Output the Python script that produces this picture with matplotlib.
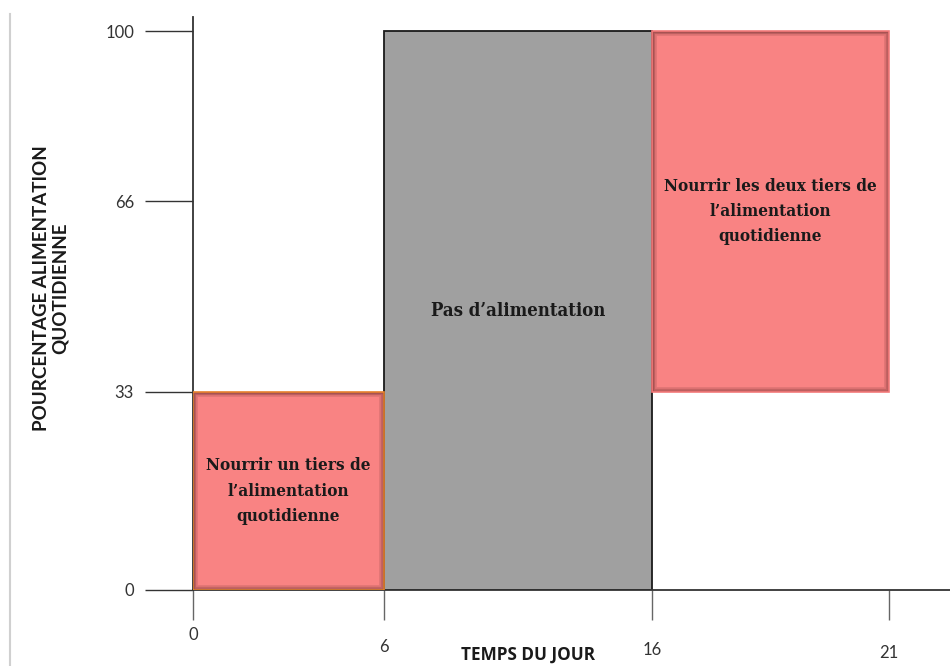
import numpy as np
import matplotlib
matplotlib.use("Agg")
import matplotlib.pyplot as plt
from matplotlib.transforms import ScaledTranslation
from matplotlib.lines import Line2D

# ---- data ----
starts = [0, 6, 16]
ends = [6, 16, 21]
bottoms = [0, 0, 33]
tops = [33, 100, 100]
box_labels = ["Nourrir un tiers de\nl\u2019alimentation\nquotidienne",
              "Pas d\u2019alimentation",
              "Nourrir les deux tiers de\nl\u2019alimentation\nquotidienne"]
xticks = [0, 6, 16, 21]
xticklabels = ["0", "6", "16", "21"]
yticks = [0, 33, 66, 100]
yticklabels = ["0", "33", "66", "100"]
xlabel = "TEMPS DU JOUR"
ylabel = "POURCENTAGE ALIMENTATION\nQUOTIDIENNE"

# ---- styles ----
fills = ["#F98383", "#A0A0A0", "#F98383"]
edges = ["#E8822E", "#1a1a1a", "#F47A7A"]
shadow = [True, False, True]
text_sizes = [12.3, 13.3, 12.3]
xlab_drop = [0, 12, 15, 18]   # px extra drop of x tick labels (staggered as in source)

# piecewise-linear axis scales (uneven tick spacing of the original drawing)
xk = [0, 6, 16, 21, 40]
xp = [0, 191, 459, 696, 696 + 19 * 47.4]
yk = [0, 33, 66, 100, 130]
yp = [0, 198, 389, 559, 559 + 30 * 5.0]

def xf(v): return np.interp(v, xk, xp)
def xi(p): return np.interp(p, xp, xk)
def yf(v): return np.interp(v, yk, yp)
def yi(p): return np.interp(p, yp, yk)

W, H = 950, 666
fig = plt.figure(figsize=(W / 100, H / 100), dpi=100)
ax = fig.add_axes([193 / W, 76 / H, 757 / W, 573 / H])
ax.set_xscale("function", functions=(xf, xi))
ax.set_yscale("function", functions=(yf, yi))
ax.set_xlim(0, float(xi(757)))
ax.set_ylim(0, float(yi(573)))

for s, e, b, t, fc, ec, sh, lab, fs in zip(starts, ends, bottoms, tops, fills, edges,
                                           shadow, box_labels, text_sizes):
    if sh:
        ax.bar(s, t - b, width=e - s, bottom=b, align="edge", color=fc,
               edgecolor="none", zorder=2)
        # inner shadow: thick stroke clipped to the box itself
        for lw, a in [(7, 0.18), (4.5, 0.25), (2.5, 0.35)]:
            cont = ax.bar(s, t - b, width=e - s, bottom=b, align="edge", color="none",
                          edgecolor=(0.45, 0.2, 0.2, a), linewidth=lw, zorder=2.5)
            for p in cont.patches:
                p.set_clip_path(p)
        ax.bar(s, t - b, width=e - s, bottom=b, align="edge", color="none",
               edgecolor=ec, linewidth=1.2, zorder=3)
    else:
        ax.bar(s, t - b, width=e - s, bottom=b, align="edge", color=fc,
               edgecolor=ec, linewidth=1.3, zorder=2)
    xc = float(xi((xf(s) + xf(e)) / 2))
    yc = float(yi((yf(b) + yf(t)) / 2))
    ax.text(xc, yc, lab, ha="center", va="center", fontsize=fs,
            fontfamily="DejaVu Serif", fontweight="bold", fontstretch="condensed",
            color="#1a1a1a", linespacing=1.62, zorder=4)

# spines
for sp in ["top", "right"]:
    ax.spines[sp].set_visible(False)
for sp in ["left", "bottom"]:
    ax.spines[sp].set_color("#333333")
    ax.spines[sp].set_linewidth(1.3)

# y ticks: long lines to the left
ax.set_yticks(yticks)
ax.set_yticklabels(yticklabels)
ax.tick_params(axis="y", direction="out", length=34.5, width=1.0, color="#333333",
               pad=8, labelsize=12, labelcolor="#333333")
for lab in ax.get_yticklabels():
    lab.set_fontfamily("Lato")

# x ticks: down lines, labels drawn separately with stagger
ax.set_xticks(xticks)
ax.set_xticklabels([""] * len(xticks))
ax.tick_params(axis="x", direction="out", length=21.5, width=1.0, color="#666666")
for v, txt, d in zip(xticks, xticklabels, xlab_drop):
    tr = ax.get_xaxis_transform() + ScaledTranslation(0, -(37 + d) / 100, fig.dpi_scale_trans)
    ax.text(v, 0, txt, transform=tr, ha="center", va="top", fontsize=12,
            fontfamily="Lato", color="#333333", clip_on=False)

# axis titles
fig.text(528 / W, 1 - 655 / H, xlabel, ha="center", va="center", fontsize=12.3,
         fontweight="bold", fontfamily="Open Sans", color="#1a1a1a")
fig.text(51 / W, 1 - 288 / H, ylabel, ha="center", va="center", rotation=90,
         fontsize=13.5, fontweight="bold", fontfamily="Lato", color="#1a1a1a",
         linespacing=1.15, multialignment="center")

# faint frame line at left edge
fig.add_artist(Line2D([9.5 / W, 9.5 / W], [0, 1 - 14 / H], transform=fig.transFigure,
                      color="#d0d0d0", linewidth=1.5))

fig.savefig("out.png", dpi=100)
